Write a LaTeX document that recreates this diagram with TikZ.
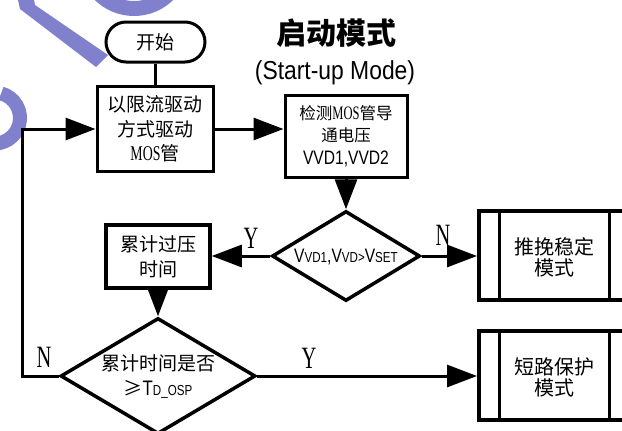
\documentclass[tikz,border=0pt]{standalone}
\usepackage{fontspec}
\setmainfont{Noto Sans CJK SC}
\newfontfamily\lsr[FakeStretch=0.66]{Liberation Serif}
\newfontfamily\lsn[FakeStretch=0.8]{Liberation Sans}
\newfontfamily\lsnt[FakeStretch=0.88]{Liberation Sans}
\usetikzlibrary{arrows.meta,shapes.geometric}
\definecolor{wm}{RGB}{128,128,204}
\tikzset{
  box/.style={draw, line width=3pt, align=center, inner sep=0pt},
  ln/.style={line width=3pt},
  arr/.style={line width=3pt, -{Triangle[length=30pt,width=22pt]}},
  dia/.style={draw, diamond, line width=3.5pt, inner sep=0pt},
  lbl/.style={font=\lsr\fontsize{31}{31}\selectfont, inner sep=0pt},
}
\newcommand\sm[1]{{\fontsize{14.5}{14.5}\selectfont #1}}
\begin{document}
\begin{tikzpicture}[x=1pt,y=-1pt]
\useasboundingbox (0,0) rectangle (622,431);
\fill[white] (0,0) rectangle (622,431);
\clip (0,0) rectangle (622,431);
% watermark
\fill[wm] (18,0) -- (34,0) -- (35,5) -- (108,55) -- (96,67) -- (20,9) -- cycle;
\fill[wm, even odd rule] (134,-40) circle[radius=56pt] (134,-40) circle[radius=41pt];
\draw[wm, line width=14pt] (1.1,93.4) arc[start angle=75, end angle=-100, radius=25.5pt];
% titles
\node[font=\bfseries\fontsize{30}{30}\selectfont, inner sep=0pt] (title) at (336,33) {启动模式};
\node[font=\lsnt\fontsize{26}{26}\selectfont, inner sep=0pt] (sub) at (335,73) {(Start-up Mode)};
% nodes
\node[box, rounded corners=20pt, minimum width=99pt, minimum height=40pt, font=\fontsize{19}{19}\selectfont] (start) at (155.5,42) {开始};
\node[box, minimum width=116pt, minimum height=85pt, font=\fontsize{19}{24.5}\selectfont] (b1) at (155,129) {以限流驱动\\方式驱动\\{\lsr\fontsize{21}{24.5}\selectfont MOS}管};
\node[box, minimum width=122pt, minimum height=82pt, font=\fontsize{16.5}{22.5}\selectfont] (b2) at (346,136) {检测{\lsr\fontsize{19}{22.5}\selectfont MOS}管导\\通电压\\{\lsn\fontsize{19.5}{22.5}\selectfont VVD1,VVD2}};
\node[dia, minimum width=148pt, minimum height=90pt] (d1) at (346,256) {};
\node[font=\lsn\fontsize{19.5}{19.5}\selectfont, inner sep=0pt] (d1t) at (346,257) {V\sm{VD1},V\sm{VD>}V\sm{SET}};
\node[box, line width=3.5pt, minimum width=104pt, minimum height=63pt, font=\fontsize{19}{25}\selectfont] (b3) at (158,256.5) {累计过压\\时间};
\node[dia, minimum width=195pt, minimum height=116pt] (d2) at (158,376) {};
\node[font=\fontsize{19}{25}\selectfont, align=center, inner sep=0pt] (d2t) at (158,376) {累计时间是否\\≥{\lsn\fontsize{21}{25}\selectfont T\sm{D\_OSP}}};
\node[box, line width=4pt, minimum width=150pt, minimum height=89pt] (pp1) at (554,255.5) {};
\node[box, line width=4pt, minimum width=150pt, minimum height=89pt] (pp2) at (554,375.5) {};
\draw[line width=3pt] ([xshift=22pt]pp1.north west) -- ([xshift=22pt]pp1.south west);
\draw[line width=3pt] ([xshift=-22pt]pp1.north east) -- ([xshift=-22pt]pp1.south east);
\draw[line width=3pt] ([xshift=22pt]pp2.north west) -- ([xshift=22pt]pp2.south west);
\draw[line width=3pt] ([xshift=-22pt]pp2.north east) -- ([xshift=-22pt]pp2.south east);
\node[font=\fontsize{20}{21.5}\selectfont, align=center, inner sep=0pt] (pp1t) at (554,257.5) {推挽稳定\\模式};
\node[font=\fontsize{20}{21.5}\selectfont, align=center, inner sep=0pt] (pp2t) at (554,377.5) {短路保护\\模式};
% connectors
\draw[ln] (start.south) -- (start.south |- b1.north);
\draw[arr] (b1.east) -- (b1.east -| b2.west);
\draw[arr] (b2.south) -- (d1.north);
\draw[arr] (d1.east) -- (d1.east -| pp1.west);
\draw[arr] (d1.west) -- (d1.west -| b3.east);
\draw[arr] (b3.south) -- (b3.south |- d2.north);
\draw[arr] (d2.east) -- (d2.east -| pp2.west);
\coordinate (lc) at (22,376);
\draw[arr] (d2.west) -- (lc) |- (b1.west);
% labels
\node[lbl] (ly1) at (251,238) {Y};
\node[lbl] (ln1) at (443,235) {N};
\node[lbl] (ln2) at (44,357) {N};
\node[lbl] (ly2) at (309,358) {Y};
\end{tikzpicture}
\end{document}
